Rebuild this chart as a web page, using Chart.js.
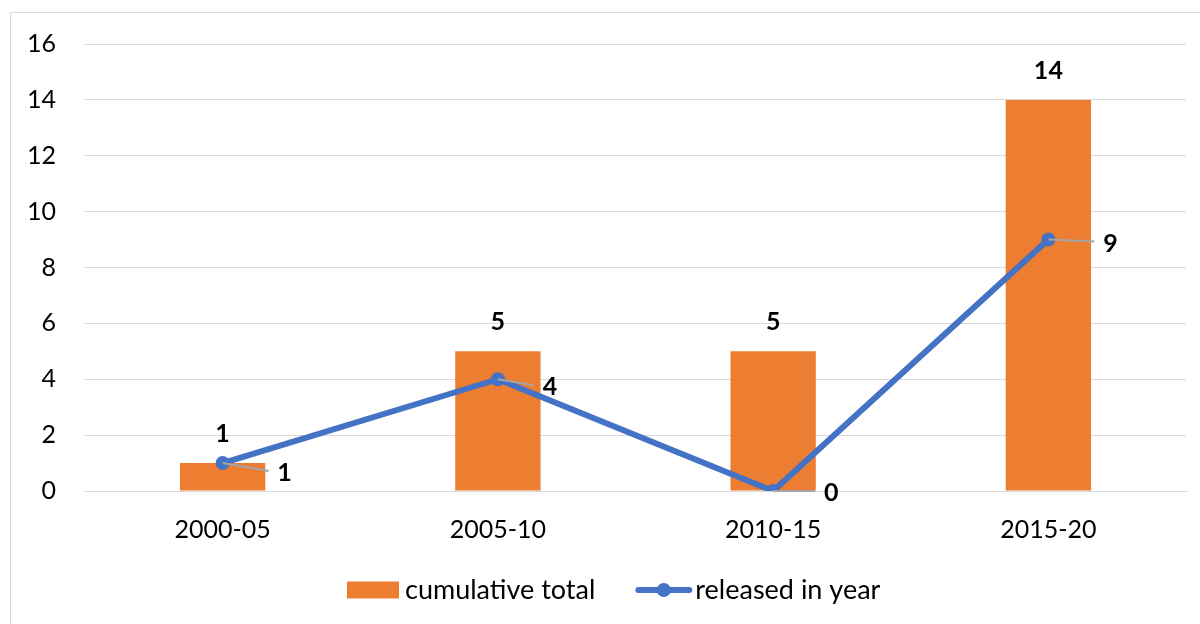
<!DOCTYPE html>
<html>
<head>
<meta charset="utf-8">
<script src="https://cdn.jsdelivr.net/npm/chart.js@4"></script>
<style>
  html, body { margin: 0; padding: 0; background: #fff; }
  #frame {
    position: absolute; left: 10px; top: 12px;
    width: 1195px; height: 620px;
    border: 1px solid #d9d9d9; box-sizing: border-box;
  }
  #myChart { position: absolute; left: 0; top: 0; }
</style>
</head>
<body>
<div id="frame"><canvas id="myChart" width="1188" height="610"></canvas></div>
<script>
// Dữ liệu biểu đồ
const periods = ['2000-05', '2005-10', '2010-15', '2015-20'];
const cumulativeTotal = [1, 5, 5, 14];
const releasedInYear = [1, 4, 0, 9];
const yTicks = [0, 2, 4, 6, 8, 10, 12, 14, 16];

// độ lệch nhãn của đường (px)
const lineLabelNudge = [[62, 10], [52, 8], [58, 2], [62, 4]];

const ORANGE = '#ED7D31';
const BLUE = '#4472C4';
const FONT = 'Lato, "Noto Sans", sans-serif';

// Plugin vẽ nhãn dữ liệu
const dataLabels = {
    id: 'dataLabels',
    afterDatasetsDraw(chart) {
        const ctx = chart.ctx;
        ctx.save();
        ctx.font = 'bold 25px ' + FONT;
        ctx.fillStyle = '#000';
        ctx.textAlign = 'center';
        ctx.textBaseline = 'middle';

        const barMeta = chart.getDatasetMeta(0);
        barMeta.data.forEach((bar, i) => {
            ctx.fillText(String(cumulativeTotal[i]), bar.x, bar.y - 29);
        });

        const lineMeta = chart.getDatasetMeta(1);
        lineMeta.data.forEach((pt, i) => {
            const lx = pt.x + lineLabelNudge[i][0];
            const ly = pt.y + lineLabelNudge[i][1];
            ctx.strokeStyle = '#A5A5A5';
            ctx.lineWidth = 2;
            ctx.beginPath();
            ctx.moveTo(pt.x, pt.y);
            ctx.lineTo(lx - 16, ly - 2);
            ctx.stroke();
            ctx.fillText(String(releasedInYear[i]), lx, ly);
        });
        ctx.restore();
    }
};

// Plugin vẽ chú giải kiểu Excel
const excelLegend = {
    id: 'excelLegend',
    afterDraw(chart) {
        const ctx = chart.ctx;
        const ds = chart.data.datasets;
        const y = chart.chartArea.bottom + 99;
        let x = chart.chartArea.left + 262;
        ctx.save();
        ctx.font = '27px ' + FONT;
        ctx.textBaseline = 'middle';
        ctx.textAlign = 'left';

        // ô màu cam
        ctx.fillStyle = ORANGE;
        ctx.fillRect(x, y - 8.5, 52, 17);
        x += 58;
        ctx.fillStyle = '#000';
        ctx.fillText(ds[0].label, x, y);
        x += ctx.measureText(ds[0].label).width + 40;

        // đường xanh có chấm
        ctx.strokeStyle = BLUE;
        ctx.lineWidth = 6;
        ctx.lineCap = 'round';
        ctx.beginPath();
        ctx.moveTo(x + 3, y);
        ctx.lineTo(x + 54, y);
        ctx.stroke();
        ctx.fillStyle = BLUE;
        ctx.beginPath();
        ctx.arc(x + 28.5, y, 7, 0, Math.PI * 2);
        ctx.fill();
        x += 60;
        ctx.fillStyle = '#000';
        ctx.fillText(ds[1].label, x, y);
        ctx.restore();
    }
};

const ctx = document.getElementById('myChart').getContext('2d');
new Chart(ctx, {
    type: 'bar',
    data: {
        labels: periods,
        datasets: [
            {
                type: 'bar',
                label: 'cumulative total',
                data: cumulativeTotal,
                backgroundColor: ORANGE,
                categoryPercentage: 1,
                barPercentage: 0.31,
                order: 2
            },
            {
                type: 'line',
                label: 'released in year',
                data: releasedInYear,
                borderColor: BLUE,
                backgroundColor: BLUE,
                borderWidth: 6,
                borderJoinStyle: 'round',
                borderCapStyle: 'round',
                pointRadius: 7,
                pointHoverRadius: 7,
                pointBackgroundColor: BLUE,
                pointBorderWidth: 0,
                tension: 0,
                order: 1
            }
        ]
    },
    options: {
        responsive: false,
        animation: false,
        layout: { padding: { top: 31, right: 13, left: 0, bottom: 62 } },
        plugins: {
            tooltip: { enabled: false },
            legend: { display: false }
        },
        scales: {
            x: {
                grid: { display: false, drawTicks: false },
                border: { display: true, color: '#D9D9D9', width: 1 },
                ticks: { color: '#000', font: { family: FONT, size: 25 }, padding: 24 },
                afterFit(scale) { scale.height = 70; }
            },
            y: {
                min: 0,
                max: 16,
                afterBuildTicks(scale) { scale.ticks = yTicks.map(v => ({ value: v })); },
                grid: { color: '#D9D9D9', lineWidth: 1, drawTicks: false },
                border: { display: false },
                ticks: { color: '#000', font: { family: FONT, size: 25 }, padding: 29 },
                afterFit(scale) {
                    scale.width = 74;
                    scale.paddingTop = 0;
                    scale.paddingBottom = 0;
                }
            }
        }
    },
    plugins: [dataLabels, excelLegend]
});
</script>
</body>
</html>
